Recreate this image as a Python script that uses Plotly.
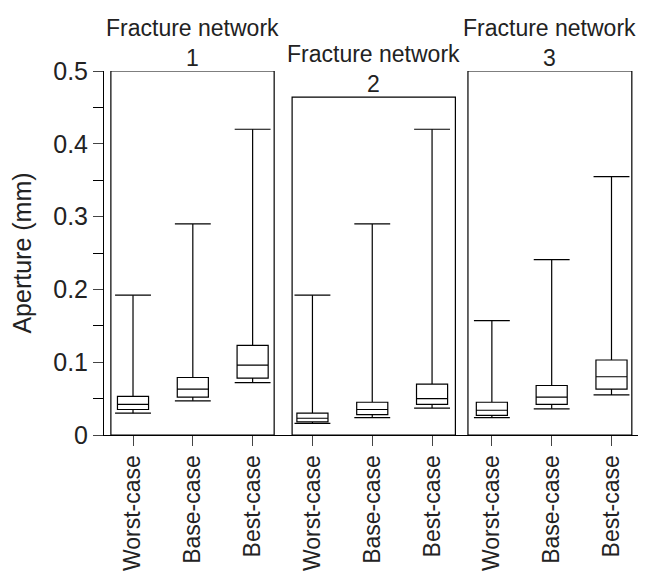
import plotly.graph_objects as go

cats = ["Worst-case", "Base-case", "Best-case"] * 3
lower = [0.030, 0.047, 0.072, 0.016, 0.024, 0.037, 0.024, 0.036, 0.055]
q1 = [0.035, 0.052, 0.078, 0.018, 0.028, 0.042, 0.027, 0.042, 0.063]
med = [0.042, 0.063, 0.096, 0.023, 0.035, 0.050, 0.034, 0.052, 0.080]
q3 = [0.053, 0.079, 0.123, 0.030, 0.045, 0.070, 0.045, 0.068, 0.103]
upper = [0.192, 0.290, 0.420, 0.192, 0.290, 0.420, 0.157, 0.241, 0.355]
net_titles = ["Fracture network<br>1", "Fracture network<br>2", "Fracture network<br>3"]
net_tops = [0.5, 0.464, 0.5]

xs = list(range(9))
fig = go.Figure()
fig.add_trace(go.Box(x=xs, q1=q1, median=med, q3=q3, lowerfence=lower, upperfence=upper,
                     width=0.52, fillcolor="white", line=dict(color="black", width=1.2),
                     whiskerwidth=0, showlegend=False, hoverinfo="skip"))
shapes = []
cw = 0.30
for i in xs:
    for v in (lower[i], upper[i]):
        shapes.append(dict(type="line", x0=i - cw, x1=i + cw, y0=v, y1=v, line=dict(color="black", width=1.2)))
rect = [(-0.37, 2.36), (2.66, 5.39), (5.6, 8.34)]
ann = []
for k, (a, b) in enumerate(rect):
    shapes.append(dict(type="rect", x0=a, x1=b, y0=0, y1=net_tops[k], line=dict(color="black", width=1.2)))
    ann.append(dict(x=(a + b) / 2, y=net_tops[k], yanchor="bottom", text=net_titles[k], showarrow=False,
                    font=dict(size=23, color="#222"), yshift=-2))
fig.update_layout(width=646, height=578, margin=dict(l=96, r=12, t=63, b=151),
                  plot_bgcolor="white", paper_bgcolor="white", shapes=shapes, annotations=ann,
                  font=dict(family="Liberation Sans, Arial", size=22, color="#222"))
fig.update_xaxes(range=[-0.485, 8.51], tickvals=xs, ticktext=cats, tickangle=-90, ticks="outside",
                 ticklen=10, showgrid=False, zeroline=False, showline=True, linecolor="black",
                 automargin=False, tickfont=dict(size=23))
fig.update_yaxes(range=[0, 0.5], tickvals=[0, 0.1, 0.2, 0.3, 0.4, 0.5], ticktext=["0", "0.1", "0.2", "0.3", "0.4", "0.5"],
                 ticks="outside", ticklen=10, showline=True, linecolor="black", showgrid=False, zeroline=False,
                 minor=dict(tickvals=[0.05, 0.15, 0.25, 0.35, 0.45], ticks="outside", ticklen=10, tickcolor="black"),
                 automargin=False, tickfont=dict(size=25),
                 title=dict(text="Aperture (mm)", standoff=14, font=dict(size=25)))
fig.write_html("out.html")
